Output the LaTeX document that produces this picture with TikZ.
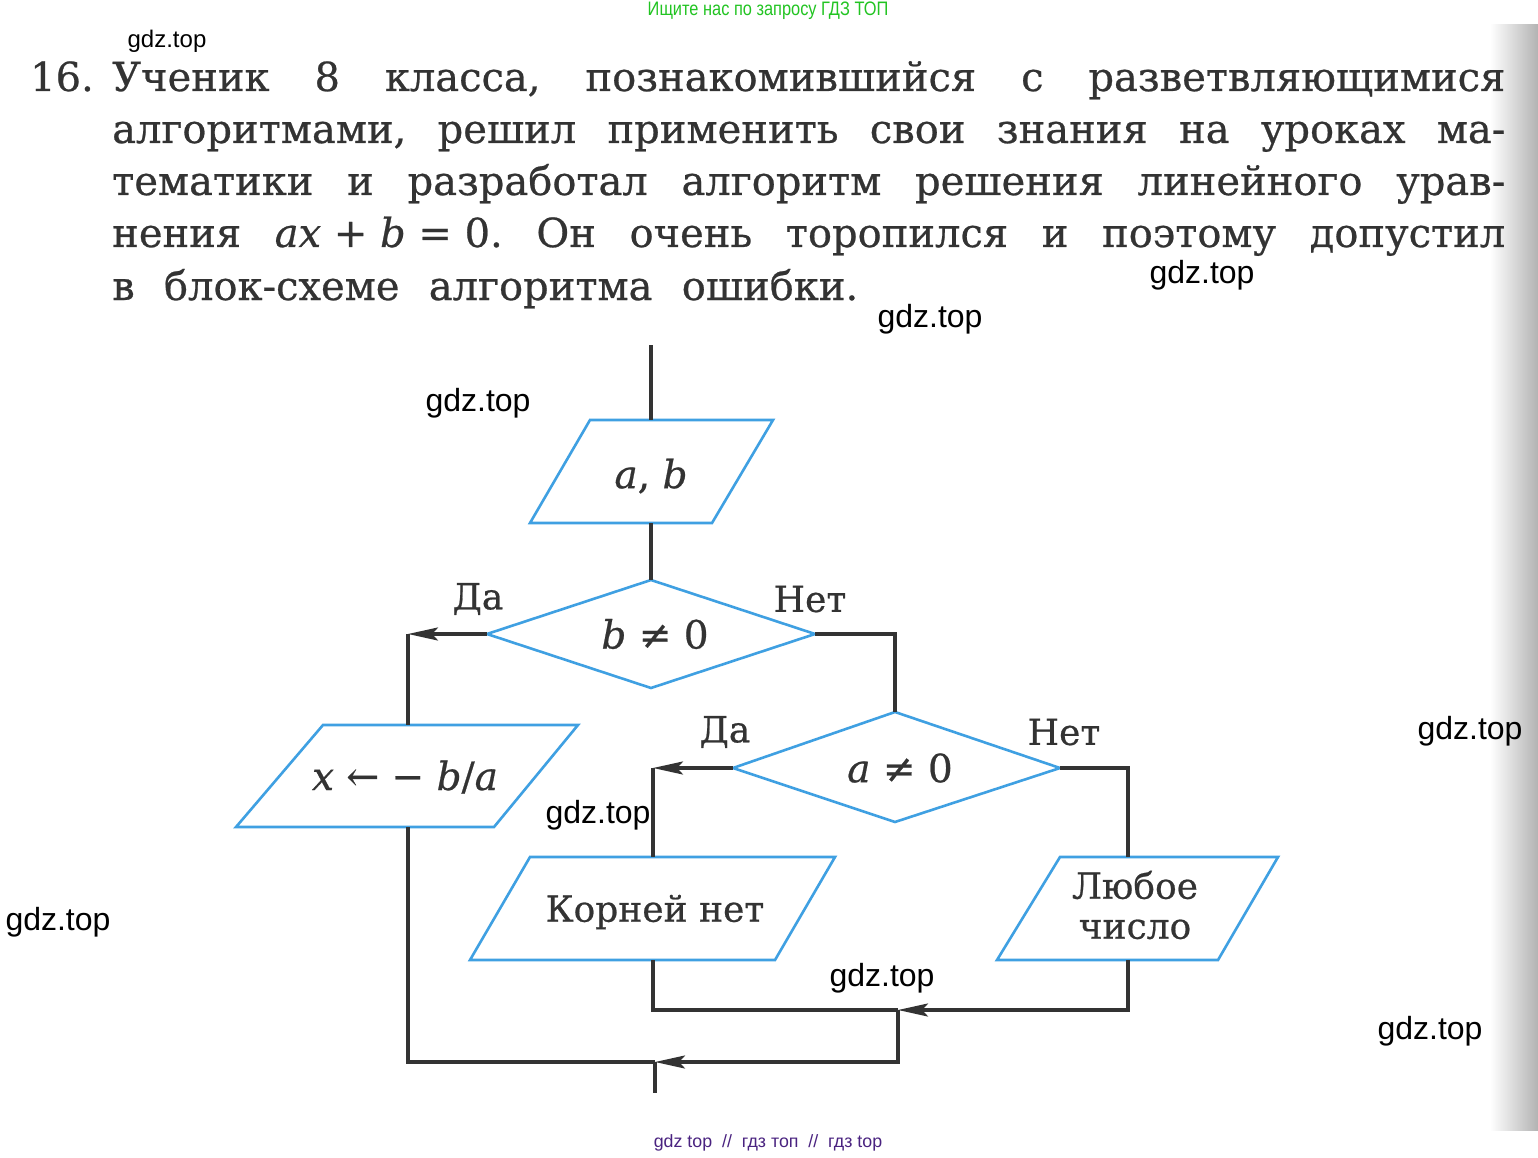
\documentclass[tikz,border=0pt]{standalone}
\usepackage{fontspec}
\setmainfont{DejaVu Serif}[FakeBold=0.6]
\newfontfamily\wmfont{Liberation Sans}
\newfontfamily\wmcond[FakeStretch=0.84]{Liberation Sans}
\usetikzlibrary{arrows.meta}
\definecolor{ink}{HTML}{333333}
\definecolor{lineink}{HTML}{333333}
\definecolor{fblue}{HTML}{3FA0E2}
\definecolor{wgreen}{HTML}{22C422}
\definecolor{wpurple}{HTML}{4A2380}
\frenchspacing
\tikzset{
  bodytext/.style={inner sep=0pt, text=ink, font=\fontsize{40}{52}\selectfont},
  chart/.style={inner sep=0pt, text=ink, font=\fontsize{39}{46}\selectfont},
  lbl/.style={inner sep=0pt, text=ink, font=\fontsize{36}{40}\selectfont},
  blueshape/.style={draw=fblue, line width=2.6pt, line join=miter},
  conn/.style={draw=lineink, line width=3.2pt},
  tip/.style={-{Stealth[length=30pt,width=13pt,inset=6pt]}},
  wmark/.style={inner sep=0pt, text=black, font=\wmfont\fontsize{32}{32}\selectfont},
}
\begin{document}
\begin{tikzpicture}[x=1pt,y=-1pt]
\useasboundingbox (0,0) rectangle (1538,1158);
\fill[white] (0,0) rectangle (1538,1158);
\shade[left color=white, right color=black!30] (1490,25) rectangle (1538,1130);

% ---- problem text ----
\node[bodytext, anchor=base west] (num) at (30,91) {16.};
\node[bodytext, anchor=base west] (l1) at (112,91) {\makebox[1393pt][s]{Ученик 8 класса, познакомившийся с разветвляющимися}};
\node[bodytext, anchor=base west] (l2) at (112,143) {\makebox[1393pt][s]{алгоритмами, решил применить свои знания на уроках ма-}};
\node[bodytext, anchor=base west] (l3) at (112,195) {\makebox[1393pt][s]{тематики и разработал алгоритм решения линейного урав-}};
\node[bodytext, anchor=base west] (l4) at (112,247) {\makebox[1393pt][s]{нения \mbox{\textit{ax} + \textit{b} = 0.} Он очень торопился и поэтому допустил}};
\node[bodytext, anchor=base west] (l5) at (112,300) {\makebox[746pt][s]{в блок-схеме алгоритма ошибки.}};

% ---- flowchart geometry ----
\coordinate (start) at (651,345);
% parallelogram a,b
\coordinate (p1tl) at (590,420); \coordinate (p1tr) at (773,420);
\coordinate (p1br) at (712,523); \coordinate (p1bl) at (530,523);
\coordinate (p1t) at (651,420); \coordinate (p1b) at (651,523);
% diamond b != 0
\coordinate (d1t) at (651,580); \coordinate (d1r) at (815,634);
\coordinate (d1b) at (651,688); \coordinate (d1l) at (487,634);
% parallelogram x <- -b/a
\coordinate (p2tl) at (323,725); \coordinate (p2tr) at (578,725);
\coordinate (p2br) at (494,827); \coordinate (p2bl) at (236,827);
\coordinate (p2t) at (408,725); \coordinate (p2b) at (408,827);
% diamond a != 0
\coordinate (d2t) at (895,712); \coordinate (d2r) at (1060,768);
\coordinate (d2b) at (895,822); \coordinate (d2l) at (733,768);
% parallelogram Корней нет
\coordinate (p3tl) at (530,857); \coordinate (p3tr) at (835,857);
\coordinate (p3br) at (775,960); \coordinate (p3bl) at (470,960);
\coordinate (p3t) at (653,857); \coordinate (p3b) at (653,960);
% parallelogram Любое число
\coordinate (p4tl) at (1060,857); \coordinate (p4tr) at (1278,857);
\coordinate (p4br) at (1218,960); \coordinate (p4bl) at (997,960);
\coordinate (p4t) at (1128,857); \coordinate (p4b) at (1128,960);
% corners and junctions
\coordinate (c1) at (408,634);
\coordinate (c2) at (895,634);
\coordinate (c3) at (653,768);
\coordinate (c4) at (1128,768);
\coordinate (c5) at (653,1010);
\coordinate (c6) at (1128,1010);
\coordinate (j1) at (898,1010);
\coordinate (c7) at (898,1062);
\coordinate (c8) at (408,1062);
\coordinate (j2) at (655,1062);
\coordinate (finish) at (655,1093);

% ---- shapes ----
\draw[blueshape] (p1tl) -- (p1tr) -- (p1br) -- (p1bl) -- cycle;
\draw[blueshape] (d1t) -- (d1r) -- (d1b) -- (d1l) -- cycle;
\draw[blueshape] (p2tl) -- (p2tr) -- (p2br) -- (p2bl) -- cycle;
\draw[blueshape] (d2t) -- (d2r) -- (d2b) -- (d2l) -- cycle;
\draw[blueshape] (p3tl) -- (p3tr) -- (p3br) -- (p3bl) -- cycle;
\draw[blueshape] (p4tl) -- (p4tr) -- (p4br) -- (p4bl) -- cycle;

\node[chart] (tab) at (651,476) {\textit{a}, \textit{b}};
\node[chart] (tbn) at (655,634) {\textit{b} ≠ 0};
\node[chart] (tx) at (405,777) {\textit{x} ← − \textit{b}/\textit{a}};
\node[chart] (tan) at (900,768) {\textit{a} ≠ 0};
\node[lbl] (tno) at (655,912) {Корней нет};
\node[lbl, align=center] (tany) at (1135,905) {Любое\\число};

\node[lbl] (da1) at (478,599) {Да};
\node[lbl] (net1) at (810,599) {Нет};
\node[lbl] (da2) at (725,732) {Да};
\node[lbl] (net2) at (1064,732) {Нет};

% ---- connectors ----
\draw[conn] (start) -- (p1t);
\draw[conn] (p1b) -- (d1t);
\draw[conn, tip] (d1l) -- (c1);
\draw[conn] (c1) -- (p2t);
\draw[conn] (p2b) -- (c8) -- (j2);
\draw[conn] (d1r) -- (c2) -- (d2t);
\draw[conn, tip] (d2l) -- (c3);
\draw[conn] (c3) -- (p3t);
\draw[conn] (d2r) -- (c4) -- (p4t);
\draw[conn] (p3b) -- (c5) -- (j1);
\draw[conn, tip] (p4b) -- (c6) -- (j1);
\draw[conn, tip] (j1) -- (c7) -- (j2);
\draw[conn] (j2) -- (finish);

% ---- watermarks ----
\node[inner sep=0pt, text=wgreen, font=\wmcond\fontsize{19.5}{19.5}\selectfont] (wtop) at (768,11) {Ищите нас по запросу ГДЗ ТОП};
\node[inner sep=0pt, text=wpurple, font=\wmfont\fontsize{17.8}{17.8}\selectfont] (wbot) at (768,1143) {gdz top \ // \ гдз топ \ // \ гдз top};
\node[wmark, font=\wmfont\fontsize{24}{24}\selectfont] (w1) at (167,41) {gdz.top};
\node[wmark] (w2) at (1202,275) {gdz.top};
\node[wmark] (w3) at (930,319) {gdz.top};
\node[wmark] (w4) at (478,403) {gdz.top};
\node[wmark] (w5) at (1470,731) {gdz.top};
\node[wmark] (w6) at (598,815) {gdz.top};
\node[wmark] (w7) at (58,922) {gdz.top};
\node[wmark] (w8) at (882,978) {gdz.top};
\node[wmark] (w9) at (1430,1031) {gdz.top};
\end{tikzpicture}
\end{document}
